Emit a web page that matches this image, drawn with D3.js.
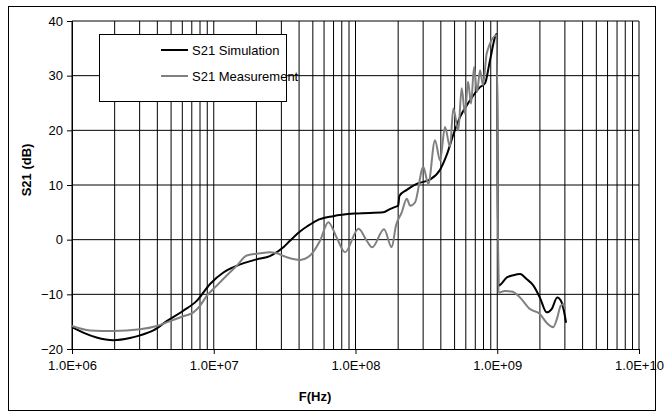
<!DOCTYPE html>
<html>
<head>
<meta charset="utf-8">
<script src="https://cdn.jsdelivr.net/npm/d3@7"></script>
<style>
  body { margin: 0; background: #fff; }
  svg { font-family: "Liberation Sans", Arial, sans-serif; }
</style>
</head>
<body>
<svg id="chart" width="664" height="417"></svg>
<script>
// series values
const simFreq = [1.0e6, 1.2e6, 1.49e6, 1.96e6, 2.56e6, 3.02e6, 3.75e6, 4.66e6, 6.1e6, 7.58e6,
  9.42e6, 1.17e7, 1.45e7, 2.01e7, 2.49e7, 3.1e7, 3.45e7, 4.06e7, 4.6e7, 5.32e7, 6.97e7,
  1.02e8, 1.57e8, 1.75e8, 1.95e8, 2.0e8, 2.04e8, 2.3e8, 2.7e8, 3.36e8, 3.95e8, 4.4e8,
  4.9e8, 5.46e8, 6.43e8, 7.56e8, 8.2e8, 8.89e8, 9.92e8,
  1.02e9, 1.17e9, 1.3e9, 1.45e9, 1.61e9, 1.8e9, 2.0e9, 2.23e9, 2.42e9, 2.65e9, 2.85e9, 3.06e9];
const simDb = [-16.0, -17.0, -17.9, -18.4, -18.0, -17.5, -16.6, -14.9, -13.0, -11.2,
  -8.1, -6.0, -4.8, -3.6, -3.0, -1.4, -0.2, 1.5, 2.5, 3.5, 4.3,
  4.8, 5.0, 5.6, 6.1, 6.2, 8.0, 9.1, 10.2, 11.0, 12.8, 15.5,
  19.2, 22.4, 25.5, 27.9, 28.6, 32.8, 37.6,
  -8.4, -6.9, -6.5, -6.3, -7.2, -8.4, -10.6, -13.3, -12.7, -10.6, -11.5, -15.2];

const measFreq = [1.0e6, 1.34e6, 1.96e6, 3.02e6, 3.96e6, 4.91e6, 6.1e6, 7.18e6, 8.0e6, 8.92e6,
  1.05e7, 1.23e7, 1.45e7, 1.71e7, 2.12e7, 2.49e7, 2.78e7, 3.27e7, 4.06e7, 4.78e7, 5.62e7,
  6.43e7, 7.36e7, 8.43e7, 1.05e8, 1.2e8, 1.31e8, 1.59e8, 1.8e8, 1.93e8, 2.12e8, 2.3e8,
  2.43e8, 2.63e8, 3.01e8, 3.26e8, 3.64e8, 3.95e8, 4.28e8, 4.64e8, 4.9e8, 5.31e8, 5.61e8,
  5.92e8, 6.22e8, 6.54e8, 6.86e8, 7.2e8, 7.56e8, 7.93e8, 8.43e8, 9.92e8,
  1.02e9, 1.13e9, 1.27e9, 1.45e9, 1.7e9, 2.0e9, 2.23e9, 2.48e9, 2.65e9, 2.8e9, 2.92e9, 3.01e9];
const measDb = [-15.8, -16.6, -16.7, -16.4, -15.8, -14.9, -14.0, -13.3, -12.1, -10.3,
  -8.4, -6.6, -4.8, -2.9, -2.5, -2.3, -2.5, -3.2, -3.7, -2.9, -0.2,
  3.2, 0.4, -2.3, 2.0, -0.2, -1.4, 1.9, -1.4, 2.6, 5.0, 7.5,
  6.2, 6.8, 13.3, 10.2, 18.2, 14.5, 20.6, 17.0, 24.0, 20.0, 27.7,
  23.1, 28.9, 24.9, 31.6, 27.0, 31.0, 28.3, 34.1, 37.4,
  -9.7, -9.4, -9.5, -10.6, -12.7, -13.6, -15.2, -16.0, -14.3, -12.1, -11.8, -12.7];

const seriesNames = ["S21 Simulation", "S21 Measurement"];
const seriesColors = ["#000000", "#808080"];
const yTicks = [-20, -10, 0, 10, 20, 30, 40];
const xDecades = [1e6, 1e7, 1e8, 1e9, 1e10];
const xTickLabels = ["1.0E+06", "1.0E+07", "1.0E+08", "1.0E+09", "1.0E+10"];

const svg = d3.select("#chart");

// outer chart border
svg.append("rect")
  .attr("x", 8.5).attr("y", 6.5)
  .attr("width", 647).attr("height", 404)
  .attr("fill", "#fff").attr("stroke", "#000");

const x = d3.scaleLog().domain([1e6, 1e10]).range([72, 639]);
const y = d3.scaleLinear().domain([-20, 40]).range([349, 21]);

// vertical gridlines at every 1..9 x decade
let minor = [];
xDecades.slice(0, -1).forEach(d => {
  for (let k = 1; k <= 9; k++) minor.push(k * d);
});
minor.push(1e10);

svg.append("g").selectAll("line")
  .data(minor)
  .enter().append("line")
  .attr("x1", d => x(d)).attr("x2", d => x(d))
  .attr("y1", y(40)).attr("y2", y(-20))
  .attr("stroke", "#000").attr("stroke-width", 1);

svg.append("g").selectAll("line")
  .data(yTicks.slice(1))
  .enter().append("line")
  .attr("x1", x(1e6)).attr("x2", x(1e10))
  .attr("y1", d => y(d)).attr("y2", d => y(d))
  .attr("stroke", "#000").attr("stroke-width", 1);

// axes
let yAxis = d3.axisLeft(y).tickValues(yTicks).tickSize(5).tickPadding(4);
svg.append("g")
  .attr("transform", "translate(" + x(1e6) + ",0)")
  .call(yAxis)
  .call(g => g.selectAll("text").attr("font-size", 13).attr("fill", "#000")
    .attr("font-family", "Liberation Sans, Arial, sans-serif"))
  .call(g => g.selectAll("line, path").attr("stroke", "#000"));

let xAxis = d3.axisBottom(x).tickValues(xDecades)
  .tickFormat((d, i) => xTickLabels[i]).tickSize(5).tickPadding(7);
svg.append("g")
  .attr("transform", "translate(0," + y(-20) + ")")
  .call(xAxis)
  .call(g => g.selectAll("text").attr("font-size", 13).attr("fill", "#000")
    .attr("font-family", "Liberation Sans, Arial, sans-serif"))
  .call(g => g.selectAll("line, path").attr("stroke", "#000"));

// axis titles
svg.append("text")
  .attr("x", 315).attr("y", 401)
  .attr("text-anchor", "middle")
  .attr("font-size", 13).attr("font-weight", "bold")
  .text("F(Hz)");

svg.append("text")
  .attr("transform", "translate(31,170) rotate(-90)")
  .attr("text-anchor", "middle")
  .attr("font-size", 13).attr("font-weight", "bold")
  .text("S21 (dB)");

// series
let line = d3.line()
  .x(d => x(d[0]))
  .y(d => y(d[1]))
  .curve(d3.curveMonotoneX);

let simData = simFreq.map((f, i) => [f, simDb[i]]);
let measData = measFreq.map((f, i) => [f, measDb[i]]);

svg.append("path")
  .datum(simData)
  .attr("d", line)
  .attr("fill", "none")
  .attr("stroke", seriesColors[0])
  .attr("stroke-width", 2);

svg.append("path")
  .datum(measData)
  .attr("d", line)
  .attr("fill", "none")
  .attr("stroke", seriesColors[1])
  .attr("stroke-width", 2);

// legend
let legend = svg.append("g");
legend.append("rect")
  .attr("x", 99.5).attr("y", 34.5)
  .attr("width", 187).attr("height", 67)
  .attr("fill", "#fff").attr("stroke", "#000");

let items = legend.selectAll("g.item")
  .data(seriesNames)
  .enter().append("g")
  .attr("class", "item")
  .attr("transform", (d, i) => "translate(0," + (50 + i * 26) + ")");

items.append("line")
  .attr("x1", 161).attr("x2", 188)
  .attr("stroke", (d, i) => seriesColors[i])
  .attr("stroke-width", 2);

items.append("text")
  .attr("x", 192).attr("y", 4.5)
  .attr("font-size", 13)
  .text(d => d);
</script>
</body>
</html>
